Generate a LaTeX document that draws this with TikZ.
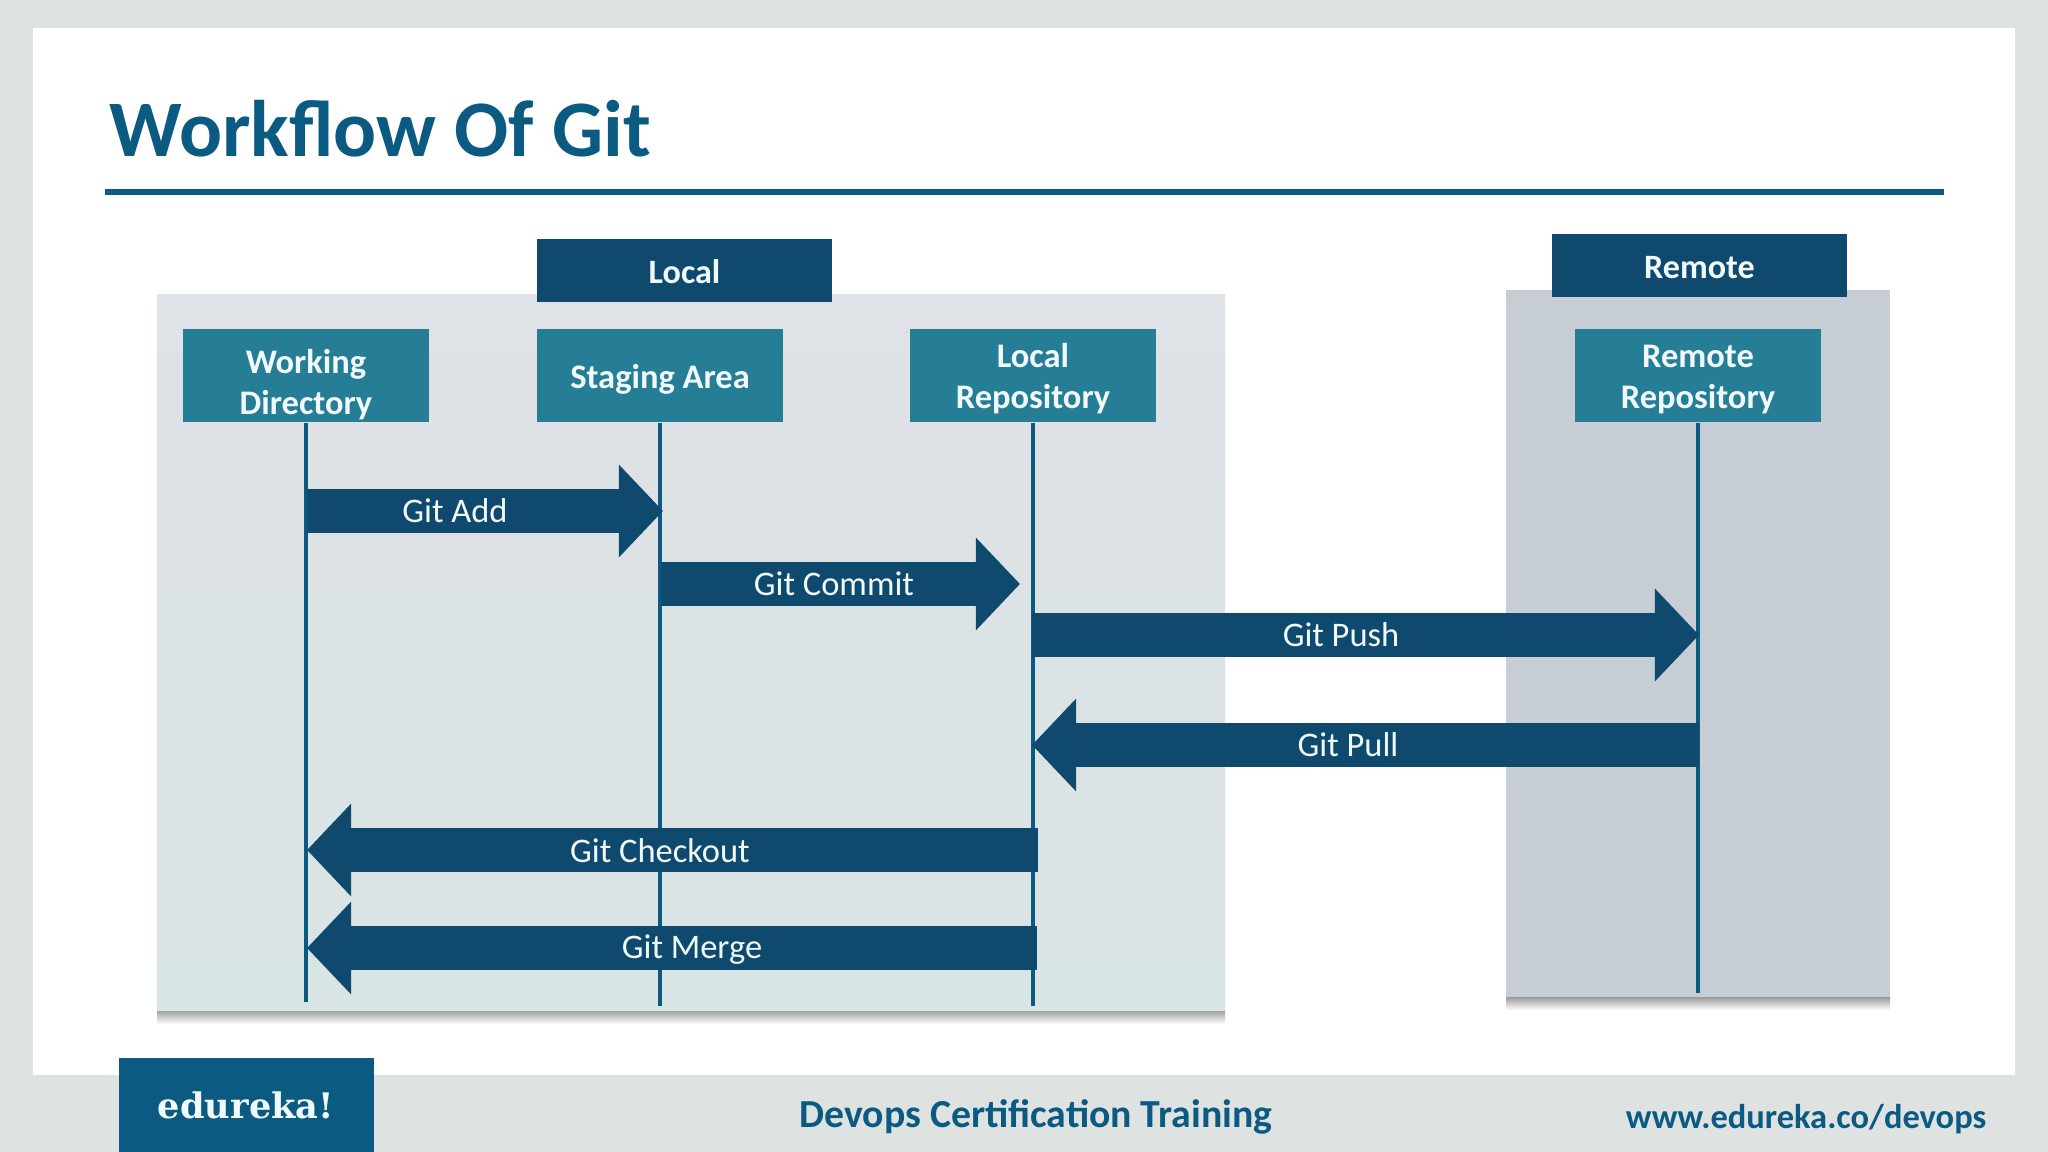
\documentclass[tikz,border=0pt]{standalone}
\usepackage{fontspec}
\setmainfont{Carlito}
\newfontfamily\logofont{DejaVu Serif}
\usetikzlibrary{arrows.meta}
\definecolor{slidegrey}{HTML}{DEE3E2}
\definecolor{titleblue}{HTML}{0B5A82}
\definecolor{darkblue}{HTML}{0F4A6E}
\definecolor{boxteal}{HTML}{267D96}
\definecolor{localgrey}{HTML}{DFE2E6}
\definecolor{localgreen}{HTML}{D9E4E4}
\definecolor{remotegrey}{HTML}{C6CDD5}
\definecolor{textwhite}{HTML}{F0FAFC}
\begin{document}
\begin{tikzpicture}[x=0.01cm,y=-0.01cm]
	\tikzstyle{header}=[fill=darkblue,text=textwhite,minimum width=2.95cm,minimum height=0.62cm,inner sep=0pt,text height=0.27cm,font=\fontsize{9.7}{9.7}\selectfont\bfseries]
	\tikzstyle{stage}=[fill=boxteal,text=textwhite,minimum width=2.46cm,minimum height=0.93cm,inner sep=0pt,align=center,font=\fontsize{9.8}{11.5}\selectfont\bfseries]
	\tikzstyle{lifeline}=[draw=titleblue,line width=0.04cm]
	\tikzstyle{flow}=[draw=darkblue,line width=0.44cm,-{Triangle[length=0.44cm,width=0.9cm]}]
	\tikzstyle{flowlabel}=[text=textwhite,inner sep=0pt,font=\fontsize{9.8}{9.8}\selectfont]
	\tikzstyle{footer}=[text=titleblue,inner sep=0pt,font=\fontsize{11.3}{11.3}\selectfont\bfseries]
	\tikzstyle{shadowstrip}=[top color=gray!85,bottom color=white]
	\fill[slidegrey] (0,0) rectangle (2048,1152);
	\fill[white] (33,28) rectangle (2015,1075);
	\node[text=titleblue,inner sep=0pt,anchor=west,font=\fontsize{22.8}{22.8}\selectfont\bfseries] (title) at (109,129) {Workflow Of Git};
	\coordinate (rulestart) at (105,192);
	\coordinate (ruleend) at (1944,192);
	\draw[titleblue,line width=0.065cm] (rulestart) -- (ruleend);
	\shade[shadowstrip] (157,1009) rectangle (1225,1024);
	\shade[shadowstrip] (1506,996) rectangle (1890,1010);
	\shade[top color=localgrey,middle color=localgrey,bottom color=localgreen] (157,295) rectangle (1225,1010);
	\fill[remotegrey] (1506,290) rectangle (1890,997);
	\node[header] (local) at (684.5,270.5) {Local};
	\node[header] (remote) at (1699.5,265.5) {Remote};
	\node[stage] (working) at (306,375.5) {\rule{0pt}{0.42cm}Working\\Directory};
	\node[stage] (staging) at (660,375.5) {\rule{0pt}{0.31cm}Staging Area};
	\node[stage] (localrepo) at (1033,375.5) {\rule{0pt}{0.3cm}Local\\Repository};
	\node[stage] (remoterepo) at (1698,375.5) {\rule{0pt}{0.3cm}Remote\\Repository};
	\coordinate (workingend) at (306,1002);
	\coordinate (stagingend) at (660,1006);
	\coordinate (localrepoend) at (1033,1006);
	\coordinate (remoterepoend) at (1698,993);
	\draw[lifeline] (working) -- (workingend);
	\draw[lifeline] (staging) -- (stagingend);
	\draw[lifeline] (localrepo) -- (localrepoend);
	\draw[lifeline] (remoterepo) -- (remoterepoend);
	\coordinate (addstart) at (307,511);
	\coordinate (addend) at (663,511);
	\coordinate (commitstart) at (661,584);
	\coordinate (commitend) at (1020,584);
	\coordinate (pushstart) at (1032,635);
	\coordinate (pushend) at (1699,635);
	\coordinate (pullstart) at (1699,745);
	\coordinate (pullend) at (1032,745);
	\coordinate (checkoutstart) at (1038,850);
	\coordinate (checkoutend) at (307,850);
	\coordinate (mergestart) at (1037,948);
	\coordinate (mergeend) at (307,948);
	\draw[flow] (addstart) -- (addend);
	\draw[flow] (commitstart) -- (commitend);
	\draw[flow] (pushstart) -- (pushend);
	\draw[flow] (pullstart) -- (pullend);
	\draw[flow] (checkoutstart) -- (checkoutend);
	\draw[flow] (mergestart) -- (mergeend);
	\node[flowlabel] (addlabel) at (455,511) {Git Add};
	\node[flowlabel] (commitlabel) at (834,584) {Git Commit};
	\node[flowlabel] (pushlabel) at (1341,635) {Git Push};
	\node[flowlabel] (pulllabel) at (1348,745) {Git Pull};
	\node[flowlabel] (checkoutlabel) at (660,851) {Git Checkout};
	\node[flowlabel] (mergelabel) at (692,950) {Git Merge};
	\fill[titleblue] (119,1058) rectangle (374,1152);
	\node[text=textwhite,inner sep=0pt,font=\logofont\fontsize{10}{10}\selectfont\bfseries] (logo) at (246,1105) {edureka!};
	\node[footer] (course) at (1036,1117) {Devops Certification Training};
	\node[footer,anchor=east,font=\fontsize{9.8}{9.8}\selectfont\bfseries] (url) at (1987,1119) {www.edureka.co/devops};
\end{tikzpicture}
\end{document}
